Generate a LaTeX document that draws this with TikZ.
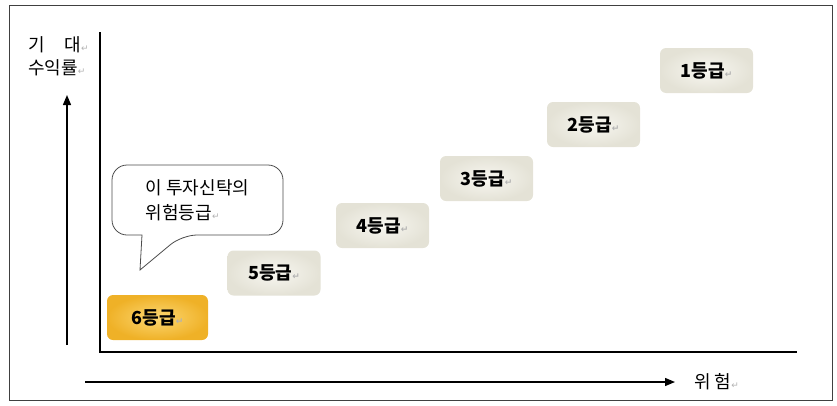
\documentclass[tikz,border=0pt]{standalone}
\usepackage{fontspec}
\usetikzlibrary{positioning,arrows.meta}
\newfontfamily\kr{Noto Sans CJK KR}[BoldFont={Noto Sans CJK KR Black}]
\newfontfamily\symfont{DejaVu Sans}
\newcommand{\retmark}{{\symfont\color{gray!60}\fontsize{9}{9}\selectfont ↵}}
\definecolor{boxin}{HTML}{F8F7F1}
\definecolor{boxout}{HTML}{E4E2D6}
\definecolor{goldin}{HTML}{FCD772}
\definecolor{goldout}{HTML}{EFB127}

\begin{document}
\begin{tikzpicture}[x=1pt,y=-1pt,>={Triangle[length=10pt,width=8pt]},
    grade/.style={rounded corners=6pt,inner color=boxin,outer color=boxout,
                  minimum width=93pt,minimum height=45pt,
                  font=\kr\bfseries\fontsize{18}{20}\selectfont},
    mine/.style={grade,inner color=goldin,outer color=goldout,minimum width=101pt},
    axislabel/.style={font=\kr\fontsize{18}{23}\selectfont,inner sep=0pt},
    axis/.style={line width=1.3pt}]

        \useasboundingbox (0,0) rectangle (837,405);
        \draw[gray!50!black,line width=1pt] (9,5) rectangle (832,400);

        % axes
        \coordinate (ytop) at (100,32);
        \coordinate (o) at (100,352);
        \coordinate (xend) at (797,352);
        \draw[axis] (ytop) -- (o) -- (xend);

        % risk grades
        \node[mine] (g6) at (157.5,317.5) {6등급\retmark};
        \node[grade] (g5) at (274,273) {5등급\retmark};
        \node[grade] (g4) at (382.5,225.5) {4등급\retmark};
        \node[grade] (g3) at (486.5,178.5) {3등급\retmark};
        \node[grade] (g2) at (593.5,124.5) {2등급\retmark};
        \node[grade] (g1) at (706.5,70.5) {1등급\retmark};

        % callout bubble
        \draw[gray!60!black,fill=white,thick] (142,235) [rounded corners=15pt]
              -- (112,235) -- (112,165) -- (283,165) -- (283,235) -- (182,235)
              [sharp corners] -- (140,270) -- cycle;
        \node[align=left,font=\kr\fontsize{18}{25}\selectfont] (note) at (197.5,200)
              {이 투자신탁의\\위험등급\retmark};

        % labels and arrows
        \node[axislabel,anchor=north west,align=left] (ylab) at (28,36)
              {기\hspace{1.1em}대\retmark\\수익률\retmark};
        \node[axislabel,anchor=west] (xlab) at (694,382) {위 험\retmark};
        \coordinate (ystart) at (67,345);
        \coordinate (ytip) at (67,95);
        \coordinate (xstart) at (85,382);
        \draw[->,line width=1.3pt] (ystart) -- (ytip);
        \draw[->,line width=1.3pt,shorten >=19pt] (xstart) -- (xlab.west);

\end{tikzpicture}
\end{document}
